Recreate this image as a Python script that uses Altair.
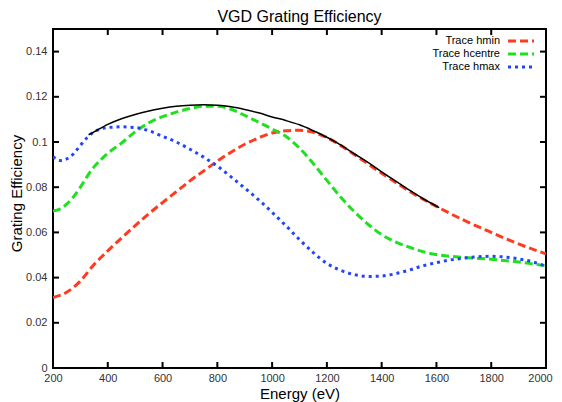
import altair as alt
import pandas as pd

# ---------------- data ----------------
energy_hmin = [200, 250, 300, 350, 400, 450, 500, 550, 600, 650, 700, 750, 800, 850, 900, 950,
               1000, 1050, 1100, 1150, 1200, 1250, 1300, 1350, 1400, 1450, 1500, 1550, 1600,
               1700, 1800, 1900, 2000]
eff_hmin = [0.0312, 0.0335, 0.0385, 0.0458, 0.0518, 0.0575, 0.0630, 0.0683, 0.0732, 0.0780,
            0.0828, 0.0872, 0.0915, 0.0955, 0.0990, 0.1018, 0.1040, 0.1050, 0.1052, 0.1043,
            0.1020, 0.0985, 0.0945, 0.0903, 0.0862, 0.0822, 0.0783, 0.0748, 0.0715,
            0.0654, 0.0600, 0.0549, 0.0505]

energy_hcentre = [200, 225, 250, 275, 300, 325, 350, 375, 400, 450, 500, 550, 600, 650, 700,
                  750, 800, 850, 900, 950, 1000, 1050, 1100, 1150, 1200, 1250, 1300, 1350,
                  1400, 1450, 1500, 1550, 1600, 1700, 1800, 1900, 2000]
eff_hcentre = [0.0695, 0.0703, 0.0725, 0.0758, 0.0800, 0.0848, 0.0890, 0.0922, 0.0950, 0.0995,
               0.1045, 0.1085, 0.1112, 0.1132, 0.1148, 0.1158, 0.1158, 0.1145, 0.1118, 0.1088,
               0.1058, 0.1025, 0.0973, 0.0905, 0.0830, 0.0757, 0.0692, 0.0636, 0.0590, 0.0558,
               0.0535, 0.0515, 0.0502, 0.0489, 0.0481, 0.0469, 0.0452]

energy_hmax = [200, 225, 250, 275, 300, 325, 350, 375, 400, 450, 500, 550, 600, 650, 700, 750,
               800, 850, 900, 950, 1000, 1050, 1100, 1150, 1200, 1250, 1300, 1350, 1400, 1450,
               1500, 1550, 1600, 1650, 1700, 1750, 1800, 1850, 1900, 1950, 2000]
eff_hmax = [0.0935, 0.0918, 0.0925, 0.0948, 0.0985, 0.1020, 0.1045, 0.1058, 0.1064, 0.1067,
            0.1064, 0.1050, 0.1025, 0.1000, 0.0968, 0.0933, 0.0893, 0.0846, 0.0796, 0.0745,
            0.0689, 0.0630, 0.0568, 0.0511, 0.0463, 0.0432, 0.0413, 0.0405, 0.0407, 0.0417,
            0.0433, 0.0452, 0.0466, 0.0478, 0.0486, 0.0492, 0.0494, 0.0491, 0.0483, 0.0470,
            0.0450]

energy_env = [330, 350, 400, 450, 500, 550, 600, 650, 700, 750, 800, 850, 900, 950, 1000, 1050,
              1100, 1150, 1200, 1250, 1300, 1350, 1400, 1450, 1500, 1550, 1610]
eff_env = [0.1032, 0.1045, 0.1078, 0.1103, 0.1122, 0.1137, 0.1149, 0.1158, 0.1163, 0.1165,
           0.1163, 0.1156, 0.1144, 0.1129, 0.1111, 0.1095, 0.1076, 0.1050, 0.1021, 0.0987,
           0.0948, 0.0910, 0.0868, 0.0828, 0.0788, 0.0750, 0.0710]

series_names = ["Trace hmin", "Trace hcentre", "Trace hmax"]
series_colors = ["#ff3b1f", "#1fe01f", "#2244ff"]
series_dash = [[8, 4], [8, 4], [3, 4]]

x_ticks = [200, 400, 600, 800, 1000, 1200, 1400, 1600, 1800, 2000]
y_ticks = [0, 0.02, 0.04, 0.06, 0.08, 0.1, 0.12, 0.14]

# ---------------- layout ----------------
W, H = 493, 339
FONT = "Liberation Sans"
TL = 6

xs = alt.Scale(domain=[200, 2000], nice=False, zero=False)
ys = alt.Scale(domain=[0, 0.15], nice=False)

x_axis = alt.Axis(values=x_ticks, format="d", tickSize=0, domain=False, grid=False,
                  labelFlush=False, labelOverlap=False,
                  labelOffset={"condition": {"test": "datum.value == 2000", "value": -6},
                               "value": 0},
                  labelFont=FONT, labelFontSize=11, labelColor="#333333", labelPadding=4,
                  title="Energy (eV)", titleFont=FONT, titleFontSize=15,
                  titleFontWeight="normal", titleColor="#000000", titlePadding=3)
y_axis = alt.Axis(values=y_ticks, format="~g", tickSize=0, domain=False, grid=False,
                  labelFlush=False, labelOverlap=False,
                  labelFont=FONT, labelFontSize=11, labelColor="#333333", labelPadding=6,
                  title="Grating Efficiency", titleFont=FONT, titleFontSize=15,
                  titleFontWeight="normal", titleColor="#000000", titlePadding=1,
                  titleY=164)


def X(field):
    return alt.X(field, type="quantitative", scale=xs, axis=x_axis)


def Y(field):
    return alt.Y(field, type="quantitative", scale=ys, axis=y_axis)


def curve(E, V, color, dash, width):
    df = pd.DataFrame({"E": E, "V": V})
    kw = dict(color=color, strokeWidth=width, interpolate="monotone", clip=True)
    if dash:
        kw["strokeDash"] = dash
    return alt.Chart(df).mark_line(**kw).encode(x=X("E"), y=Y("V"))


layers = []

# inward ticks on all four sides
xt = pd.DataFrame({"t": x_ticks})
yt = pd.DataFrame({"t": y_ticks})
tick_style = dict(color="black", strokeWidth=2)
layers.append(alt.Chart(xt).mark_rule(**tick_style).encode(
    x=X("t"), y=alt.value(H), y2=alt.value(H - TL)))
layers.append(alt.Chart(xt).mark_rule(**tick_style).encode(
    x=X("t"), y=alt.value(0), y2=alt.value(TL)))
layers.append(alt.Chart(yt).mark_rule(**tick_style).encode(
    y=Y("t"), x=alt.value(0), x2=alt.value(TL)))
layers.append(alt.Chart(yt).mark_rule(**tick_style).encode(
    y=Y("t"), x=alt.value(W), x2=alt.value(W - TL)))

# curves
layers.append(curve(energy_hmin, eff_hmin, series_colors[0], series_dash[0], 3))
layers.append(curve(energy_hcentre, eff_hcentre, series_colors[1], series_dash[1], 3))
layers.append(curve(energy_hmax, eff_hmax, series_colors[2], series_dash[2], 3))
layers.append(curve(energy_env, eff_env, "black", None, 1.5))

# legend (top-right, labels left of symbols)
legend_y = [12, 25, 38]
for name, color, dash, ly in zip(series_names, series_colors, series_dash, legend_y):
    ldf = pd.DataFrame({"name": [name]})
    layers.append(alt.Chart(ldf).mark_text(align="right", baseline="middle", font=FONT,
                                           fontSize=11, color="#000000").encode(
        text="name:N", x=alt.value(447), y=alt.value(ly)))
    layers.append(alt.Chart(ldf).mark_rule(color=color, strokeWidth=3, strokeDash=dash).encode(
        x=alt.value(455), x2=alt.value(481), y=alt.value(ly)))

chart = alt.layer(*layers).properties(
    width=W, height=H,
    title=alt.TitleParams("VGD Grating Efficiency", font=FONT, fontSize=16,
                          fontWeight="normal", color="#000000", anchor="middle", offset=3),
    autosize=alt.AutoSizeParams(type="none"),
    padding={"left": 45, "top": 21, "right": 8, "bottom": 34},
    background="white",
).configure_view(stroke="black", strokeWidth=2)

chart.save("out.html", embed_options={"renderer": "svg", "actions": False})
